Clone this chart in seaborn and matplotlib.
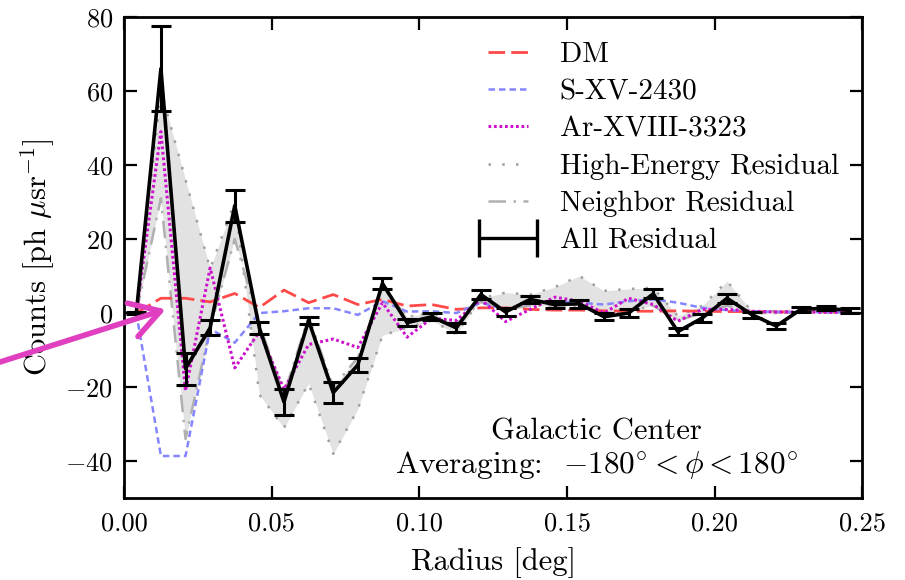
import numpy as np
import pandas as pd
import matplotlib
matplotlib.use("Agg")
import matplotlib.pyplot as plt
import seaborn as sns
from matplotlib.ticker import StrMethodFormatter
from matplotlib.container import ErrorbarContainer
from matplotlib.legend_handler import HandlerErrorbar

# ---------------- data ----------------
k = np.arange(30)
radius = (k + 0.5) / 120.0

all_res = [0, 66, -15, -4, 29, -4, -24, -2, -21.5, -14, 8, -2.6, -1, -4, 5,
           0.3, 3.7, 2.3, 2.5, -1, 0, 5.2, -5, -1.3, 4, -0.4, -3.5, 1, 1.3, 0.7]
all_err = [0.3, 11.5, 4.3, 2, 4.3, 1.6, 3.4, 1, 2.8, 2, 1.5, 1, 1, 1.2, 1.2,
           1, 1, 1, 1, 1, 1, 1.2, 1, 1, 1.2, 0.8, 0.8, 0.6, 0.6, 0.6]
dm = [0, 4, 4, 3, 5.3, 1.5, 6.2, 2.8, 5, 2.3, 3.7, 1.9, 2.3, 1, 1.4,
      1.4, 1, 0.8, 0.8, 0.6, 0.5, 0.5, 0.6, 0.5, 0.4, 0.4, 0.3, 0.3, 0.3, 0.2]
sxv = [0, -38.6, -38.6, -4.3, -8, 0, 0.5, 1.3, 1.3, -0.5, 3.2, 0.4, 0.5, 0, 2.8,
       1, 2.8, 3.2, 2.8, 2.3, 3.2, 3.7, 2.8, 1.4, 0.8, 0.5, 0.3, 0.3, 0.2, 0.2]
ar = [0, 49, -21, 12.2, -14.8, -5, -20.6, -8.5, -7, -9.3, 2.8, -6.5, -1.4, -2, 3.7,
      -2.3, 1, 4.3, 3.2, 0, 4, 2.3, -2.2, 1, 1, 0.5, 0.3, 0.3, 0.2, 0.2]
high_e = [0, 60, 36, 12, 30, -22, -31, -19, -38, -26, -6, -4, -2, -5.7, 4,
          5.5, 5, 7, 10, 6, 6.5, 6.8, -0.8, 2, 8.6, 0.5, 0.5, 0.5, 0.5, 0.5]
neighbor = [0, 31, -34, -4, 20, -3, -22, -1, -20, -12, 7, -1, 0, -3, 3,
            1, 2, 2, 2, 0, 0.5, 2, -2, 0, 2, 0, 0, 0.3, 0.5, 0.5]

xticks = [0.00, 0.05, 0.10, 0.15, 0.20, 0.25]
yticks = [-40, -20, 0, 20, 40, 60, 80]

df = pd.DataFrame({"r": radius, "all": all_res, "err": all_err, "dm": dm,
                   "sxv": sxv, "ar": ar, "he": high_e, "nb": neighbor})

# ---------------- style ----------------
sns.set_theme(style="ticks")
plt.rcParams["font.family"] = ["cmr10", "DejaVu Serif"]
plt.rcParams["mathtext.fontset"] = "cm"
plt.rcParams["axes.formatter.use_mathtext"] = True
plt.rcParams["axes.unicode_minus"] = True
plt.rcParams["text.color"] = "black"
plt.rcParams["axes.labelcolor"] = "black"
plt.rcParams["xtick.color"] = "black"
plt.rcParams["ytick.color"] = "black"

fig = plt.figure(figsize=(9.05, 5.8), dpi=100)
ax = fig.add_axes([0.137, 0.141, 0.816, 0.830])

ax.fill_between(df["r"], df["he"], df["nb"], color="#e2e2e2", lw=0, zorder=1)

sns.lineplot(data=df, x="r", y="dm", ax=ax, color="#ff4a4a", lw=2.0,
             linestyle=(0, (6, 2.2)), label="DM", zorder=3)
sns.lineplot(data=df, x="r", y="sxv", ax=ax, color="#8585ff", lw=1.8,
             linestyle=(0, (2.6, 1.6)), label="S-XV-2430", zorder=3)
sns.lineplot(data=df, x="r", y="ar", ax=ax, color="#cc11cc", lw=2.2,
             linestyle=(0, (0.9, 0.9)), label="Ar-XVIII-3323", zorder=4)
sns.lineplot(data=df, x="r", y="he", ax=ax, color="#a0a0a0", lw=1.8,
             linestyle=(0, (1, 4.5)), label="High-Energy Residual", zorder=2)
sns.lineplot(data=df, x="r", y="nb", ax=ax, color="#b0b0b0", lw=1.8,
             linestyle=(0, (7, 3, 1, 3)), label="Neighbor Residual", zorder=2)

ax.errorbar(df["r"], df["all"], yerr=df["err"], color="black", lw=2.6,
            elinewidth=2.2, capsize=7, capthick=2.2, zorder=5)
# proxy for legend (horizontal bar with end caps)
ax.errorbar([np.nan], [np.nan], xerr=[1], color="black", lw=0,
            elinewidth=2.4, capsize=14, capthick=2.4, label="All Residual")

ax.set_xlim(0, 0.25)
ax.set_ylim(-50, 80)
ax.set_xticks(xticks)
ax.set_yticks(yticks)
ax.xaxis.set_major_formatter(StrMethodFormatter("{x:.2f}"))
ax.tick_params(direction="in", length=9, width=1.6, top=True, right=True,
               labelsize=19, pad=8, colors="black")
ax.tick_params(axis="x", pad=10)
for s in ax.spines.values():
    s.set_linewidth(2.0)
    s.set_color("black")

ax.set_xlabel("Radius [deg]", fontsize=22, labelpad=8)
ax.set_ylabel(r"Counts [ph $\mu$sr$^{-1}$]", fontsize=22, labelpad=6)

ax.text(0.64, 0.137, "Galactic Center", transform=ax.transAxes,
        ha="center", va="center", fontsize=22)
ax.text(0.64, 0.068, r"Averaging:  $-180^{\circ} < \phi < 180^{\circ}$",
        transform=ax.transAxes, ha="center", va="center", fontsize=22.5)

leg = ax.legend(loc="upper left", frameon=False, fontsize=21,
                handlelength=1.37, handletextpad=1.1, labelspacing=0.37,
                borderpad=0, borderaxespad=0, bbox_to_anchor=(0.4926, 0.948),
                handler_map={ErrorbarContainer: HandlerErrorbar(xerr_size=1.0)})

ax.annotate("", xy=(0.0141, 1.0), xycoords="data",
            xytext=(-25, 210), textcoords="figure pixels",
            arrowprops=dict(arrowstyle="->,head_length=0.7,head_width=0.42",
                            color="#e040c0", lw=4.0, mutation_scale=30,
                            shrinkA=0, shrinkB=0),
            annotation_clip=False, zorder=10)

fig.savefig("out.png", dpi=100)
